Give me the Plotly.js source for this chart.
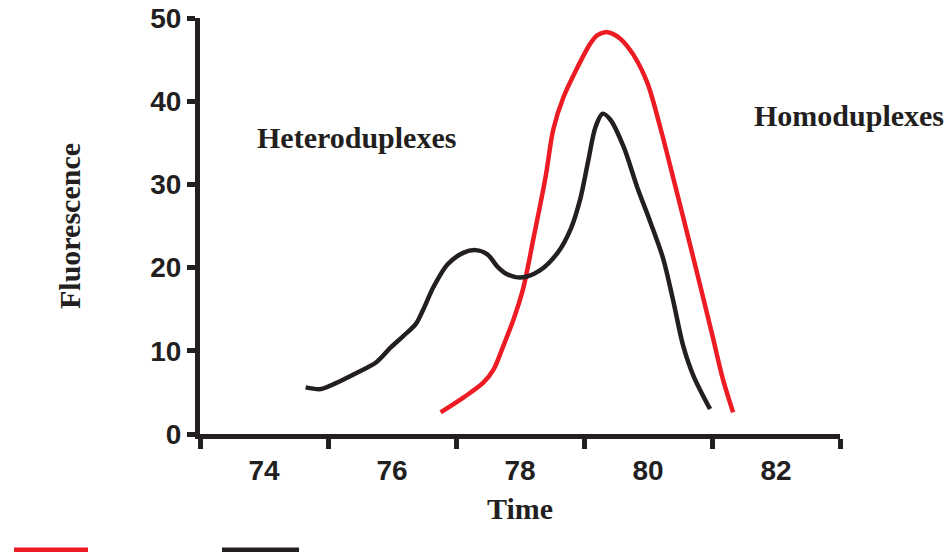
<!DOCTYPE html>
<html>
<head>
<meta charset="utf-8">
<script src="https://cdn.plot.ly/plotly-3.0.1.min.js"></script>
<style>html,body{margin:0;padding:0;background:#fff;}#chart{width:946px;height:552px;}</style>
</head>
<body>
<div id="chart"></div>
<script>
// Black curve (heteroduplex sample)
const blackX = [74.65, 74.89, 75.09, 75.46, 75.75, 75.98, 76.18, 76.37, 76.49, 76.65, 76.87, 77.12, 77.31, 77.49, 77.65, 77.80, 78.01, 78.30, 78.59, 78.79, 78.94, 79.07, 79.18, 79.29, 79.41, 79.62, 79.83, 80.04, 80.24, 80.40, 80.55, 80.71, 80.97];
const blackY = [5.6, 5.4, 6.0, 7.4, 8.6, 10.4, 11.8, 13.2, 15.0, 17.7, 20.4, 21.8, 22.1, 21.6, 20.1, 19.2, 18.8, 19.6, 21.8, 24.6, 28.2, 33.0, 36.9, 38.5, 37.8, 34.5, 29.7, 25.4, 21.0, 15.8, 10.6, 7.0, 3.0];
// Red curve (homoduplex sample)
const redX = [76.76, 77.12, 77.43, 77.59, 77.74, 77.90, 78.05, 78.21, 78.40, 78.52, 78.68, 78.90, 79.08, 79.20, 79.33, 79.45, 79.57, 79.77, 79.99, 80.19, 80.40, 80.61, 80.82, 81.02, 81.17, 81.33];
const redY = [2.6, 4.4, 6.2, 7.8, 10.6, 13.8, 17.5, 23.5, 30.9, 36.6, 40.5, 44.1, 46.7, 47.9, 48.3, 48.1, 47.5, 45.6, 42.2, 36.9, 30.6, 24.2, 17.7, 11.4, 6.6, 2.6];

const xTickMarks = [73, 75, 77, 79, 81, 83];
const xLabelVals = [74, 76, 78, 80, 82];
const xLabelText = ['74', '76', '78', '80', '82'];
const yTickVals = [0, 10, 20, 30, 40, 50];
const yTickText = ['0', '10', '20', '30', '40', '50'];

const INK = '#231f20';
const RED = '#ed1c24';
const tickFont = {family: '"Liberation Sans", Arial, sans-serif', size: 28, color: INK, weight: 'bold'};
const serifFont = {family: '"Liberation Serif", "Times New Roman", serif', size: 30, color: INK, weight: 'bold'};

const traces = [
  {x: redX, y: redY, type: 'scatter', mode: 'lines', name: 'red',
   line: {color: RED, width: 4.5, shape: 'spline', smoothing: 0.9}, showlegend: false, cliponaxis: false},
  {x: blackX, y: blackY, type: 'scatter', mode: 'lines', name: 'black',
   line: {color: INK, width: 4.5, shape: 'spline', smoothing: 0.9}, showlegend: false, cliponaxis: false},
  // empty carrier so the label axis is drawn
  {x: [], y: [], type: 'scatter', mode: 'lines', xaxis: 'x2', yaxis: 'y', showlegend: false, hoverinfo: 'skip'}
];

const layout = {
  width: 946, height: 552,
  margin: {l: 200, r: 106, t: 18, b: 118},
  paper_bgcolor: '#fff', plot_bgcolor: '#fff',
  showlegend: false,
  xaxis: {
    range: [73, 83], showgrid: false, zeroline: false,
    showline: true, linewidth: 5, linecolor: INK,
    tickmode: 'array', tickvals: xTickMarks, showticklabels: false,
    ticks: 'outside', ticklen: 10, tickwidth: 5, tickcolor: INK
  },
  xaxis2: {
    overlaying: 'x', anchor: 'y', side: 'bottom',
    range: [73, 83], showgrid: false, zeroline: false, showline: false,
    tickmode: 'array', tickvals: xLabelVals, ticktext: xLabelText,
    ticks: '', tickfont: tickFont, ticklabelstandoff: 17,
    title: {text: 'Time', font: serifFont, standoff: 12}
  },
  yaxis: {
    range: [0, 50], showgrid: false, zeroline: false,
    showline: true, linewidth: 5, linecolor: INK,
    tickmode: 'array', tickvals: yTickVals, ticktext: yTickText,
    ticks: 'outside', ticklen: 8, tickwidth: 5, tickcolor: INK,
    tickfont: tickFont,
    title: {text: 'Fluorescence', font: serifFont, standoff: 62}
  },
  annotations: [
    {text: 'Heteroduplexes', x: 75.45, y: 35.6, xref: 'x', yref: 'y', showarrow: false, font: serifFont},
    {text: 'Homoduplexes', x: 1.0147, y: 0.765, xref: 'paper', yref: 'paper', xanchor: 'center', yanchor: 'middle', showarrow: false, font: serifFont}
  ],
  shapes: [
    {type: 'line', xref: 'paper', yref: 'paper', x0: -0.2906, x1: -0.175, y0: -0.279, y1: -0.279, line: {color: RED, width: 5}},
    {type: 'line', xref: 'paper', yref: 'paper', x0: 0.0344, x1: 0.1547, y0: -0.279, y1: -0.279, line: {color: INK, width: 5}}
  ]
};

Plotly.newPlot('chart', traces, layout, {displayModeBar: false, staticPlot: true});
</script>
</body>
</html>
